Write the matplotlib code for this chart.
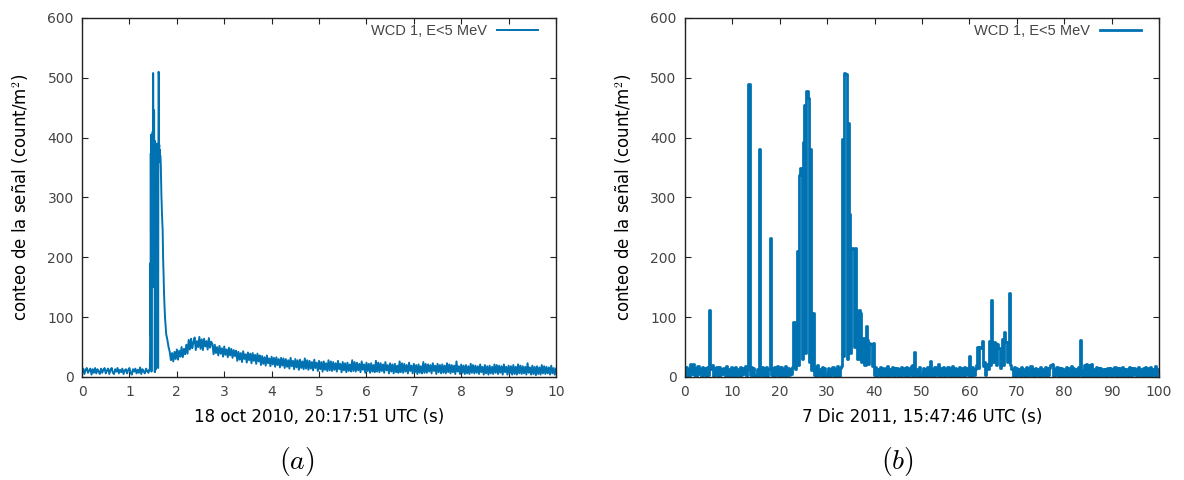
import matplotlib.pyplot as plt
import numpy as np

# Señal WCD 1 (E<5 MeV), 18 oct 2010 -- antes del pulso (paso 0.025 s)
a_pre = [6, 14, 5, 12, 15, 7, 11, 14, 4, 13, 7, 15, 6, 13, 9, 5, 14, 7, 12, 15,
         6, 11, 14, 5, 12, 15, 7, 5, 13, 9, 15, 6, 12, 8, 14, 5, 11, 13, 6, 12,
         15, 7, 4, 13, 9, 14, 6, 12, 7, 16, 5, 13, 9, 6, 14, 10, 7, 13]

# pulso entre 1.43 y 1.745 s (paso 0.005 s)
a_pulso = [12, 45, 190, 70, 374, 160, 405, 9, 385, 230, 400, 290, 410, 180, 508, 310,
           400, 150, 446, 260, 395, 8, 262, 360, 12, 340, 375, 210, 385, 300, 390, 340,
           380, 320, 372, 15, 330, 510, 505, 385, 388, 360, 380, 363, 370, 365, 358, 340,
           320, 300, 290, 275, 265, 255, 248, 225, 200, 185, 172, 155, 140, 128, 118, 110]

# cola de la señal desde 1.75 s hasta 10 s (paso 0.025 s)
a_cola = [100, 72, 62, 50, 42, 28, 40, 26, 42, 30, 46, 29, 44, 34, 50, 33, 47, 38, 54, 39,
          62, 46, 64, 48, 58, 66, 45, 60, 50, 67, 47, 63, 45, 64, 51, 60, 46, 65, 49, 59,
          55, 38, 54, 40, 50, 36, 52, 39, 48, 34, 51, 37, 46, 33, 49, 36, 47, 32, 45, 35,
          44, 27, 42, 29, 40, 25, 43, 30, 38, 24, 41, 28, 39, 23, 40, 27, 37, 22, 39, 26,
          36, 20, 35, 22, 33, 19, 36, 23, 31, 18, 34, 21, 32, 17, 33, 20, 30, 16, 32, 19,
          31, 15, 30, 17, 28, 14, 32, 18, 27, 13, 30, 16, 28, 12, 29, 15, 26, 13, 31, 14,
          28, 12, 27, 14, 25, 11, 29, 15, 24, 10, 27, 13, 25, 9, 26, 12, 23, 10, 28, 11,
          26, 10, 25, 12, 23, 9, 27, 13, 22, 8, 25, 11, 23, 8, 24, 10, 21, 9, 28, 10,
          25, 9, 24, 11, 22, 8, 26, 12, 21, 7, 24, 10, 22, 7, 23, 9, 20, 8, 27, 9,
          24, 8, 23, 10, 21, 7, 25, 11, 20, 6, 23, 9, 21, 6, 22, 8, 19, 7, 26, 8,
          23, 7, 22, 9, 20, 6, 24, 10, 19, 6, 22, 8, 20, 5, 21, 7, 18, 6, 25, 7,
          22, 7, 21, 9, 20, 6, 23, 10, 19, 5, 22, 8, 20, 6, 21, 7, 19, 6, 23, 8,
          21, 6, 20, 8, 19, 5, 26, 9, 18, 5, 21, 7, 19, 5, 20, 6, 18, 5, 22, 7,
          20, 6, 19, 7, 18, 5, 21, 8, 17, 4, 20, 6, 18, 4, 19, 6, 17, 5, 21, 7,
          20, 5, 19, 7, 18, 4, 21, 8, 17, 4, 19, 6, 18, 4, 20, 5, 17, 4, 21, 6,
          19, 5, 18, 6, 17, 4, 23, 7, 16, 4, 19, 5, 17, 3, 18, 5, 16, 4, 20, 6,
          18, 5, 17, 6, 16, 4, 19, 6, 15, 4, 14]

# Señal WCD 1, 7 dic 2011 (paso 0.25 s, de 0 a 100 s)
b_vals = [2, 16, 4, 14, 1, 21, 5, 22, 3, 15, 2, 18, 5, 14, 1, 16, 4, 15, 2, 17,
          3, 112, 14, 20, 2, 15, 4, 17, 1, 16, 3, 14, 5, 15, 2, 18, 4, 14, 1, 16,
          4, 15, 2, 17, 3, 14, 1, 16, 3, 15, 5, 18, 2, 14, 489, 3, 16, 1, 15, 4,
          2, 14, 4, 381, 3, 16, 1, 15, 4, 17, 2, 14, 233, 3, 15, 1, 16, 3, 19, 4,
          3, 16, 2, 14, 4, 18, 1, 15, 3, 14, 5, 17, 92, 14, 28, 211, 20, 338, 349, 30,
          393, 455, 40, 478, 466, 25, 381, 12, 107, 3, 16, 2, 20, 4, 14, 1, 17, 3, 15, 2,
          4, 15, 1, 14, 3, 16, 2, 14, 4, 18, 1, 15, 18, 398, 35, 508, 507, 30, 424, 272,
          40, 216, 214, 50, 216, 112, 30, 112, 107, 25, 54, 65, 20, 86, 62, 22, 57, 55, 18, 57,
          3, 16, 2, 14, 4, 17, 1, 15, 3, 15, 2, 18, 1, 14, 4, 16, 2, 15, 3, 15,
          2, 14, 1, 17, 4, 15, 2, 16, 1, 15, 3, 18, 20, 2, 42, 4, 14, 2, 16, 3,
          1, 15, 4, 14, 2, 17, 3, 26, 4, 14, 1, 16, 3, 15, 22, 2, 15, 4, 17, 1,
          14, 3, 16, 2, 15, 4, 18, 1, 15, 3, 14, 1, 17, 4, 15, 2, 16, 3, 15, 4,
          35, 12, 2, 16, 3, 14, 20, 50, 15, 50, 48, 60, 18, 25, 4, 22, 14, 60, 20, 129,
          25, 58, 56, 20, 55, 48, 15, 33, 63, 20, 76, 58, 25, 58, 140, 20, 14, 2, 16, 1,
          15, 3, 14, 1, 17, 4, 14, 2, 16, 1, 15, 4, 18, 2, 14, 1, 15, 3, 14, 2,
          16, 3, 14, 4, 17, 1, 15, 4, 15, 20, 22, 2, 14, 3, 16, 1, 15, 4, 15, 2,
          14, 2, 16, 3, 15, 1, 18, 4, 15, 2, 14, 1, 16, 4, 62, 12, 2, 20, 3, 21,
          2, 20, 1, 21, 4, 14, 1, 16, 3, 15, 2, 15, 4, 14, 1, 14, 2, 15, 3, 15,
          2, 14, 4, 16, 1, 15, 3, 15, 1, 17, 2, 14, 4, 14, 2, 16, 1, 15, 4, 15,
          3, 14, 2, 16, 4, 14, 1, 15, 3, 17, 1, 15, 4, 16, 2, 14, 3, 18, 2, 14,
          10]

t_a = np.concatenate([np.linspace(0, 1.425, len(a_pre)),
                      np.linspace(1.43, 1.745, len(a_pulso)),
                      np.linspace(1.75, 10.0, len(a_cola))])
y_a = np.array(a_pre + a_pulso + a_cola)
t_b = np.linspace(0, 100, len(b_vals))
y_b = np.array(b_vals)

azul = '#0072b2'
gris = '#444444'
etiqueta = 'WCD 1, E<5 MeV'
ylab = r'conteo de la señal (count/m$^2$)'

plt.rcParams['mathtext.fontset'] = 'cm'
plt.rcParams['path.simplify'] = False  # sin simplificar, para conservar el ruido

fig = plt.figure(figsize=(11.84, 4.8), dpi=100)
ax_a = fig.add_axes([0.0693, 0.2146, 0.4003, 0.748])
ax_b = fig.add_axes([0.5785, 0.2146, 0.4003, 0.748])

ax_a.plot(t_a, y_a, color=azul, lw=1.4, label=etiqueta)
ax_b.plot(t_b, y_b, color=azul, lw=2.0, drawstyle='steps-mid', label=etiqueta)

for ax, xmax, xlab in [(ax_a, 10, '18 oct 2010, 20:17:51 UTC (s)'),
                       (ax_b, 100, '7 Dic 2011, 15:47:46 UTC (s)')]:
    ax.set_xlim(0, xmax)
    ax.set_ylim(0, 600)
    ax.set_xticks(np.linspace(0, xmax, 11))
    ax.set_yticks(np.arange(0, 601, 100))
    ax.tick_params(direction='in', length=4, width=0.8, top=True, right=True,
                   labelsize=10, labelcolor=gris, color='#222222', pad=6)
    for s in ax.spines.values():
        s.set_linewidth(1.0)
        s.set_color('#222222')
    ax.set_xlabel(xlab, fontsize=12, labelpad=6)
    ax.set_ylabel(ylab, fontsize=12, labelpad=12)
    leg = ax.legend(loc='upper right', bbox_to_anchor=(0.975, 1.0), frameon=False,
                    markerfirst=False, handlelength=2.8, handletextpad=0.7,
                    borderaxespad=0.0, prop={'family': 'Liberation Sans', 'size': 10.5})
    for txt in leg.get_texts():
        txt.set_color(gris)

fig.text(0.251, 0.038, r'$(a)$', fontsize=20, ha='center', va='center')
fig.text(0.758, 0.038, r'$(b)$', fontsize=20, ha='center', va='center')

fig.savefig('out.png', dpi=100)
